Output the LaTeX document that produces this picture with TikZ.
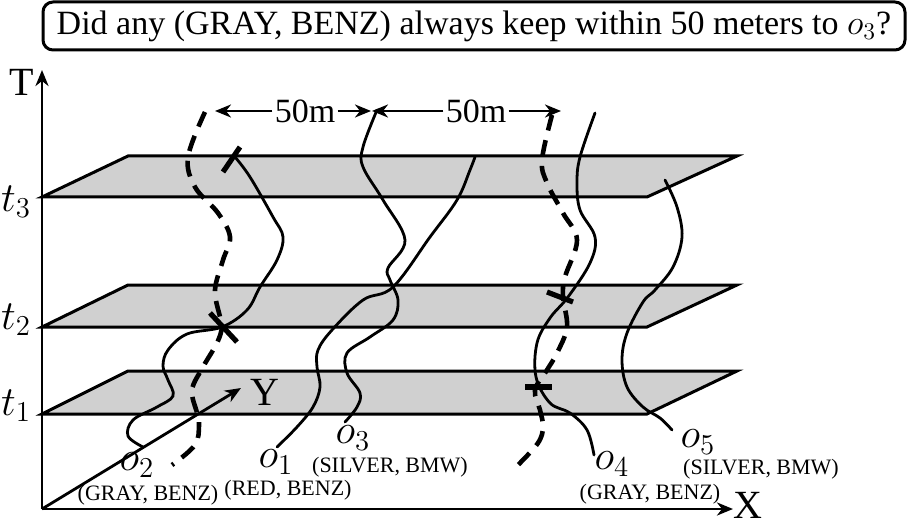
\documentclass[tikz,border=0pt]{standalone}
\usepackage{fontspec}
\setmainfont{Liberation Serif}
\usetikzlibrary{arrows.meta}
\definecolor{planefill}{RGB}{208,208,208}
\begin{document}
\begin{tikzpicture}[x=0.5pt,y=-0.5pt,
  plane/.style={fill=planefill,draw=black,line width=1.5pt,line join=miter},
  traj/.style={line width=1.4pt,line cap=round},
  bound/.style={line width=2.3pt,dash pattern=on 8pt off 5pt},
  tickbar/.style={line width=2.6pt},
  axisline/.style={line width=1.4pt,-{Stealth[length=8pt,width=6.5pt,inset=2.5pt]}},
  distarrow/.style={line width=1.2pt,-{Stealth[length=8pt,width=6.5pt,inset=2.5pt]}},
  mathlbl/.style={font=\fontsize{19.5}{22}\selectfont,inner sep=0pt},
  carlbl/.style={font=\fontsize{11}{13}\selectfont,inner sep=0pt},
  axlbl/.style={font=\fontsize{20}{24}\selectfont,inner sep=0pt},
  distlbl/.style={font=\fontsize{17}{20}\selectfont,inner sep=1pt},
  titlebox/.style={draw,line width=1.5pt,rounded corners=5pt,minimum width=431pt,minimum height=24pt,inner sep=0pt,font=\fontsize{17}{20}\selectfont}
]
\useasboundingbox (0,0) rectangle (909,529);

% title
\node[titlebox] (title) at (474,26) {Did any (GRAY, BENZ) always keep within 50 meters to $o_3$?};

% planes
\draw[plane] (42,414) -- (128,371) -- (737,371) -- (647,414) -- cycle;
\draw[plane] (42,327) -- (128,285) -- (737,285) -- (647,327) -- cycle;
\draw[plane] (42,197) -- (128,156) -- (737,156) -- (647,197) -- cycle;

% axes
\coordinate (O) at (42,509);
\coordinate (Ttip) at (42,70);
\coordinate (Xtip) at (733,509);
\coordinate (Ytip) at (241,388);
\draw[axisline] (O) -- (Ttip);
\draw[axisline] (O) -- (Xtip);
\draw[axisline] (O) -- (Ytip);
\node[axlbl] (lblT) at (22,82) {T};
\node[axlbl] (lblX) at (748,505) {X};
\node[axlbl] (lblY) at (265,392) {Y};

% time labels
\node[mathlbl] (lt3) at (16,202) {$t_3$};
\node[mathlbl] (lt2) at (16,320) {$t_2$};
\node[mathlbl] (lt1) at (16,406) {$t_1$};

% boundary curves (dashed)
\draw[bound] plot[smooth,tension=0.6] coordinates {(205,112) (188,157) (195,187) (218,213) (230,237) (223,260) (215,290) (220,317) (222,327) (217,343) (203,367) (192,390) (197,413) (199,425) (195,445) (172,465)};
\draw[bound] plot[smooth,tension=0.6] coordinates {(552,115) (542,160) (547,183) (563,213) (577,240) (565,277) (563,297) (567,327) (557,353) (547,370) (535,390) (540,410) (543,427) (538,443) (518,465)};

% trajectories
% o2
\draw[traj] plot[smooth,tension=0.6] coordinates {(143,447) (128,436) (133,420) (157,407) (173,396) (168,380) (163,366) (168,350) (187,334) (222,327) (247,310) (260,287) (277,260) (283,237) (273,217) (250,177) (235,157)};
% o1
\draw[traj] plot[smooth,tension=0.6] coordinates {(277,447) (297,427) (313,407) (320,387) (317,367) (318,350) (332,330) (363,300) (393,287) (430,237) (457,200) (470,170) (475,157)};
% o3
\draw[traj] plot[smooth,tension=0.6] coordinates {(345,422) (357,407) (360,393) (347,373) (347,353) (370,337) (393,320) (398,300) (390,280) (388,268) (405,240) (383,200) (363,167) (363,147) (377,110)};
% o4
\draw[traj] plot[smooth,tension=0.6] coordinates {(595,113) (580,157) (577,183) (580,210) (595,237) (590,263) (568,297) (550,318) (537,343) (536,377) (550,403) (570,413) (587,430) (594,455)};
% o5
\draw[traj] plot[smooth,tension=0.6] coordinates {(665,180) (677,207) (682,237) (673,267) (655,290) (643,302) (627,333) (622,360) (627,387) (643,407) (660,418) (672,430)};

% tick bars
\draw[tickbar] (240,147) -- (223,172);
\draw[tickbar] (210,313) -- (237,342);
\draw[tickbar] (547,292) -- (573,302);
\draw[tickbar] (525,387) -- (552,387);

% distance arrows
\node[distlbl] (fifty1) at (305,111) {50m};
\node[distlbl] (fifty2) at (476,111) {50m};
\coordinate (aL) at (215,111);
\coordinate (aM1) at (371,111);
\coordinate (aM2) at (372,111);
\coordinate (aR) at (561,111);
\draw[distarrow] (fifty1.west) -- (aL);
\draw[distarrow] (fifty1.east) -- (aM1);
\draw[distarrow] (fifty2.west) -- (aM2);
\draw[distarrow] (fifty2.east) -- (aR);

% object labels
\node[mathlbl] (lo2) at (137,465) {$o_2$};
\node[mathlbl] (lo1) at (276,462) {$o_1$};
\node[mathlbl] (lo3) at (353,438) {$o_3$};
\node[mathlbl] (lo4) at (612,464) {$o_4$};
\node[mathlbl] (lo5) at (698,442) {$o_5$};
\node[carlbl] (lc2) at (148,495) {(GRAY, BENZ)};
\node[carlbl] (lc1) at (288,490) {(RED, BENZ)};
\node[carlbl] (lc3) at (390,467) {(SILVER, BMW)};
\node[carlbl] (lc4) at (650,494) {(GRAY, BENZ)};
\node[carlbl] (lc5) at (761,469) {(SILVER, BMW)};
\end{tikzpicture}
\end{document}
